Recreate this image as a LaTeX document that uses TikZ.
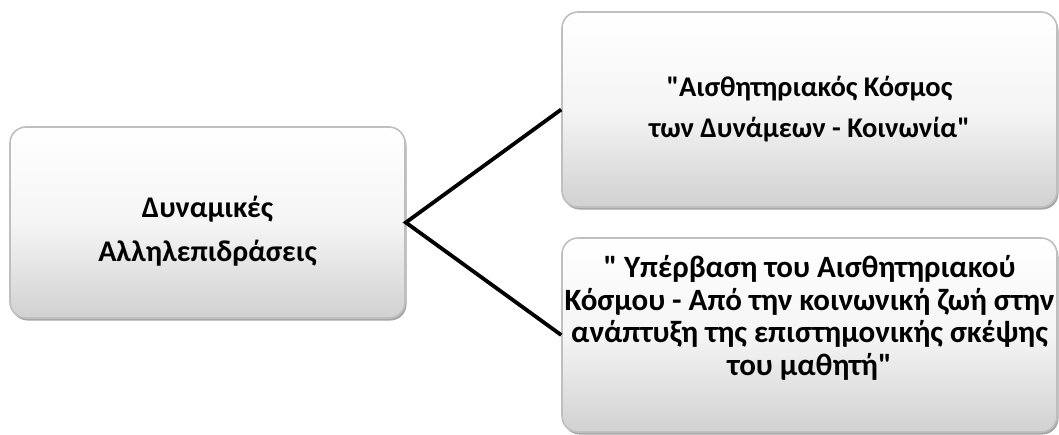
\documentclass[tikz,border=0pt]{standalone}
\usepackage{fontspec}
\newfontfamily\boxfont{Carlito}
\usetikzlibrary{shadows}
\begin{document}
\begin{tikzpicture}[x=1pt,y=-1pt,
  box/.style={rectangle, rounded corners=16pt, draw=gray!50, line width=1.6pt,
    top color=white, bottom color=gray!36, middle color=gray!8,
    drop shadow={shadow xshift=1.5pt, shadow yshift=-2.5pt, opacity=0.35, fill=black},
    inner sep=0pt},
  txt/.style={align=center, inner sep=0pt},
  link/.style={line width=3.8pt, black}]
\useasboundingbox (0,0) rectangle (1059,434);
\node[box, minimum width=395pt, minimum height=191pt] (a) at (207.5,222.5) {};
\node[box, minimum width=495pt, minimum height=195pt] (b) at (809.5,109.5) {};
\node[box, minimum width=495pt, minimum height=194pt] (c) at (809.5,335) {};
\node[txt, font=\boxfont\fontsize{30}{44}\selectfont\bfseries] (ta) at (207.5,231)
  {Δυναμικές\\Αλληλεπιδράσεις};
\node[txt, font=\boxfont\fontsize{28.5}{41}\selectfont\bfseries] (tb) at (809.5,109)
  {"Αισθητηριακός Κόσμος\\των Δυνάμεων - Κοινωνία"};
\node[txt, font=\boxfont\fontsize{31}{32.5}\selectfont\bfseries] (tc) at (809.5,318)
  {" Υπέρβαση του Αισθητηριακού\\Κόσμου - Από την κοινωνική ζωή στην\\ανάπτυξη της επιστημονικής σκέψης\\του μαθητή"};
\draw[link] (b.west) -- (a.east) -- (c.west);
\end{tikzpicture}
\end{document}
